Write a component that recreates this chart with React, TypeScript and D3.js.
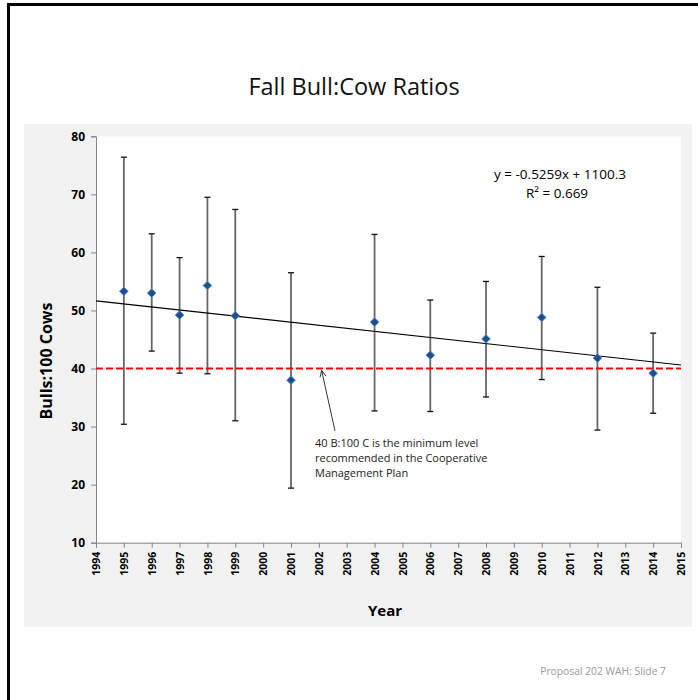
import { useEffect, useRef } from 'react';
import * as d3 from 'd3';

const years = [1995, 1996, 1997, 1998, 1999, 2001, 2004, 2006, 2008, 2010, 2012, 2014];
const ratios = [53.3, 53.0, 49.2, 54.3, 49.1, 38.0, 48.0, 42.3, 45.1, 48.8, 41.8, 39.2];
const upper = [76.4, 63.2, 59.1, 69.5, 67.4, 56.5, 63.1, 51.8, 55.0, 59.3, 54.0, 46.1];
const lower = [30.4, 43.0, 39.2, 39.1, 31.0, 19.4, 32.7, 32.6, 35.1, 38.1, 29.4, 32.3];
const yTicks = [10, 20, 30, 40, 50, 60, 70, 80];
const xTickYears = d3.range(1994, 2016);
const trendSlope = -0.5259;
const trendIntercept = 1100.3;
const minimumLevel = 40;
const noteLines = [
  '40 B:100 C is the minimum level',
  'recommended in the Cooperative',
  'Management Plan',
];

const W = 698;
const H = 700;
const font = "'Open Sans', 'Noto Sans', sans-serif";

export default function App() {
  const svgRef = useRef<SVGSVGElement>(null);

  useEffect(() => {
    if (!svgRef.current) return;
    const svg = d3.select(svgRef.current);
    svg.selectAll('*').remove();

    // slide background and border
    svg.append('rect').attr('width', W).attr('height', H).attr('fill', '#fff');
    svg.append('rect').attr('x', 7).attr('y', 3).attr('width', W).attr('height', 3).attr('fill', '#000');
    svg.append('rect').attr('x', 7).attr('y', 3).attr('width', 3).attr('height', H).attr('fill', '#000');

    svg
      .append('text')
      .attr('x', 354)
      .attr('y', 95)
      .attr('text-anchor', 'middle')
      .attr('font-family', font)
      .attr('font-size', 23.5)
      .attr('fill', '#111')
      .text('Fall Bull:Cow Ratios');

    // chart area
    svg.append('rect').attr('x', 24).attr('y', 124).attr('width', 668).attr('height', 503).attr('fill', '#f2f2f2');

    const x = d3.scaleLinear().domain([1994, 2015]).range([96, 681]);
    const y = d3.scaleLinear().domain([10, 80]).range([542.7, 136.3]);

    svg
      .append('rect')
      .attr('x', x(1994))
      .attr('y', y(80))
      .attr('width', x(2015) - x(1994))
      .attr('height', y(10) - y(80))
      .attr('fill', '#fff');

    // axes
    const yAxis = svg
      .append('g')
      .attr('transform', `translate(${x(1994)},0)`)
      .call(d3.axisLeft(y).tickValues(yTicks).tickSize(5).tickPadding(6));
    yAxis.selectAll('text').attr('font-family', font).attr('font-size', 12).attr('font-weight', 'bold').attr('fill', '#000');

    const xAxis = svg
      .append('g')
      .attr('transform', `translate(0,${y(10)})`)
      .call(d3.axisBottom(x).tickValues(xTickYears).tickFormat(d3.format('d')).tickSize(5).tickPadding(4));
    xAxis
      .selectAll('text')
      .attr('font-family', font)
      .attr('font-size', 10.5)
      .attr('font-weight', 'bold')
      .attr('fill', '#000')
      .attr('text-anchor', 'end')
      .attr('transform', 'rotate(-90)')
      .attr('x', -9)
      .attr('y', 0)
      .attr('dy', '0.35em');

    svg.selectAll('.domain, .tick line').attr('stroke', '#868686');

    svg
      .append('text')
      .attr('transform', `translate(52,361) rotate(-90)`)
      .attr('text-anchor', 'middle')
      .attr('font-family', font)
      .attr('font-size', 16)
      .attr('font-weight', 'bold')
      .text('Bulls:100 Cows');

    svg
      .append('text')
      .attr('x', 385)
      .attr('y', 616)
      .attr('text-anchor', 'middle')
      .attr('font-family', font)
      .attr('font-size', 15)
      .attr('font-weight', 'bold')
      .text('Year');

    // error bars
    const bars = svg.append('g');
    years.forEach((yr, i) => {
      const cx = x(yr);
      bars
        .append('line')
        .attr('x1', cx).attr('x2', cx)
        .attr('y1', y(upper[i])).attr('y2', y(lower[i]))
        .attr('stroke', '#666').attr('stroke-width', 1.8);
      [upper[i], lower[i]].forEach(v => {
        bars
          .append('line')
          .attr('x1', cx - 3).attr('x2', cx + 3)
          .attr('y1', y(v)).attr('y2', y(v))
          .attr('stroke', '#111').attr('stroke-width', 1.3);
      });
    });

    // minimum level line
    svg
      .append('line')
      .attr('x1', x(1994)).attr('x2', x(2015))
      .attr('y1', y(minimumLevel)).attr('y2', y(minimumLevel))
      .attr('stroke', '#ff0000').attr('stroke-width', 2).attr('stroke-dasharray', '7,3');

    // trend line
    const trend = (yr: number) => trendSlope * yr + trendIntercept;
    svg
      .append('line')
      .attr('x1', x(1994)).attr('x2', x(2015))
      .attr('y1', y(trend(1994))).attr('y2', y(trend(2015)))
      .attr('stroke', '#000').attr('stroke-width', 1.2);

    // points
    svg
      .append('g')
      .selectAll('path')
      .data(years)
      .enter()
      .append('path')
      .attr('d', d3.symbol(d3.symbolDiamond2, 48)())
      .attr('transform', (d, i) => `translate(${x(d)},${y(ratios[i])})`)
      .attr('fill', '#1f4e8c')
      .attr('stroke', '#5b8fd0')
      .attr('stroke-width', 1);

    // equation
    svg
      .append('text')
      .attr('x', 560).attr('y', 179)
      .attr('text-anchor', 'middle')
      .attr('font-family', font).attr('font-size', 13.5)
      .text(`y = ${trendSlope}x + ${trendIntercept}`);
    svg
      .append('text')
      .attr('x', 557).attr('y', 198)
      .attr('text-anchor', 'middle')
      .attr('font-family', font).attr('font-size', 13.5)
      .text('R² = 0.669');

    // annotation with arrow
    const tipX = x(2002.1);
    const tipY = y(minimumLevel) + 2;
    const tailX = 335;
    const tailY = 431;
    svg
      .append('line')
      .attr('x1', tailX).attr('y1', tailY).attr('x2', tipX).attr('y2', tipY)
      .attr('stroke', '#000').attr('stroke-width', 0.8);
    const ang = Math.atan2(tailY - tipY, tailX - tipX);
    const head = [ang - 0.45, ang + 0.45].map(a => [tipX + 7 * Math.cos(a), tipY + 7 * Math.sin(a)]);
    svg
      .append('path')
      .attr('d', `M${head[0][0]},${head[0][1]}L${tipX},${tipY}L${head[1][0]},${head[1][1]}`)
      .attr('fill', 'none').attr('stroke', '#000').attr('stroke-width', 0.8);

    svg
      .append('g')
      .selectAll('text')
      .data(noteLines)
      .enter()
      .append('text')
      .attr('x', 315)
      .attr('y', (d, i) => 447 + i * 15)
      .attr('font-family', font)
      .attr('font-size', 11)
      .attr('fill', '#222')
      .text(d => d);

    svg
      .append('text')
      .attr('x', 666).attr('y', 675)
      .attr('text-anchor', 'end')
      .attr('font-family', font).attr('font-size', 10.3)
      .attr('fill', '#999')
      .text('Proposal 202 WAH: Slide 7');
  }, []);

  return (
    <svg
      ref={svgRef}
      width={W}
      height={H}
      style={{ position: 'absolute', left: 0, top: 0, display: 'block' }}
    />
  );
}
